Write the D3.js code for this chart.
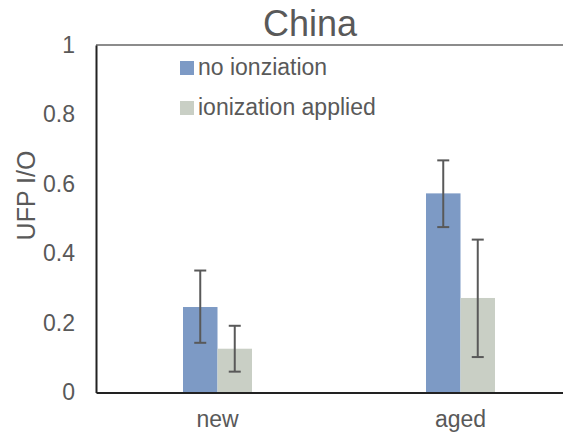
<!DOCTYPE html>
<html>
<head>
<meta charset="utf-8">
<script src="https://cdn.jsdelivr.net/npm/d3@7"></script>
<style>
  html, body { margin: 0; padding: 0; background: #fff; }
  svg { display: block; font-family: "Liberation Sans", Arial, sans-serif; }
</style>
</head>
<body>
<svg id="chart" width="563" height="436"></svg>
<script>
// UFP indoor/outdoor ratio by filter age, with and without ionization
const categories = ["new", "aged"];
const seriesNames = ["no ionziation", "ionization applied"];
const seriesColors = ["#7d9ac5", "#c9cfc5"];
const noIonization = [0.246, 0.573];
const ionizationApplied = [0.126, 0.272];
const noIonizationLow = [0.143, 0.476];
const noIonizationHigh = [0.351, 0.668];
const ionizationLow = [0.060, 0.102];
const ionizationHigh = [0.192, 0.440];
const yTicks = [0, 0.2, 0.4, 0.6, 0.8, 1];

const rows = [];
categories.forEach((c, i) => {
  rows.push({ cat: c, s: 0, v: noIonization[i], lo: noIonizationLow[i], hi: noIonizationHigh[i] });
  rows.push({ cat: c, s: 1, v: ionizationApplied[i], lo: ionizationLow[i], hi: ionizationHigh[i] });
});

const svg = d3.select("#chart");
const plotLeft = 96, plotRight = 582, plotTop = 45, plotBottom = 392.5;
const textColor = "#595959";

const x = d3.scaleBand().domain(categories).range([plotLeft, plotRight]);
const groupWidth = 69;
const x1 = d3.scaleBand().domain([0, 1]).range([0, groupWidth]);
const y = d3.scaleLinear().domain([0, 1]).range([plotBottom, plotTop]);

// title
svg.append("text")
  .attr("x", 310).attr("y", 36)
  .attr("text-anchor", "middle")
  .attr("font-size", 36).attr("fill", textColor)
  .text("China");

// top border of plot area
svg.append("line")
  .attr("x1", plotLeft).attr("x2", 563)
  .attr("y1", y(1)).attr("y2", y(1))
  .attr("stroke", "#8c8c8c").attr("stroke-width", 2);

// bars
svg.append("g").selectAll("rect").data(rows).join("rect")
  .attr("x", d => x(d.cat) + x.bandwidth() / 2 - groupWidth / 2 + x1(d.s))
  .attr("width", x1.bandwidth())
  .attr("y", d => y(d.v))
  .attr("height", d => y(0) - y(d.v))
  .attr("fill", d => seriesColors[d.s]);

// error bars
const eb = svg.append("g").attr("stroke", "#595959").attr("stroke-width", 2);
rows.forEach(d => {
  const cx = x(d.cat) + x.bandwidth() / 2 - groupWidth / 2 + x1(d.s) + x1.bandwidth() / 2;
  eb.append("line").attr("x1", cx).attr("x2", cx).attr("y1", y(d.lo)).attr("y2", y(d.hi));
  eb.append("line").attr("x1", cx - 6).attr("x2", cx + 6).attr("y1", y(d.lo)).attr("y2", y(d.lo));
  eb.append("line").attr("x1", cx - 6).attr("x2", cx + 6).attr("y1", y(d.hi)).attr("y2", y(d.hi));
});

// y axis
const yAxis = svg.append("g").attr("transform", `translate(${plotLeft},0)`)
  .call(d3.axisLeft(y).tickValues(yTicks).tickSize(0).tickPadding(21)
    .tickFormat(d => d3.format("")(d)));
yAxis.select(".domain").attr("stroke", "#222").attr("stroke-width", 2);
yAxis.selectAll("text").attr("font-size", 23).attr("fill", textColor)
  .attr("font-family", "'Liberation Sans', Arial, sans-serif");

// x axis
const xAxis = svg.append("g").attr("transform", `translate(0,${plotBottom})`)
  .call(d3.axisBottom(x).tickSize(0).tickPadding(18));
xAxis.select(".domain").attr("stroke", "#222").attr("stroke-width", 2);
xAxis.selectAll("text").attr("font-size", 23).attr("fill", textColor)
  .attr("font-family", "'Liberation Sans', Arial, sans-serif");

// y axis title
svg.append("text")
  .attr("transform", `translate(35,195.5) rotate(-90)`)
  .attr("text-anchor", "middle")
  .attr("font-size", 25).attr("fill", textColor)
  .text("UFP I/O");

// legend
const legend = svg.append("g");
seriesNames.forEach((name, i) => {
  const ly = 75 + i * 40;
  legend.append("rect")
    .attr("x", 180).attr("y", ly - 14).attr("width", 14).attr("height", 14)
    .attr("fill", seriesColors[i]);
  legend.append("text")
    .attr("x", 198).attr("y", ly)
    .attr("font-size", 23).attr("fill", textColor)
    .text(name);
});
</script>
</body>
</html>
